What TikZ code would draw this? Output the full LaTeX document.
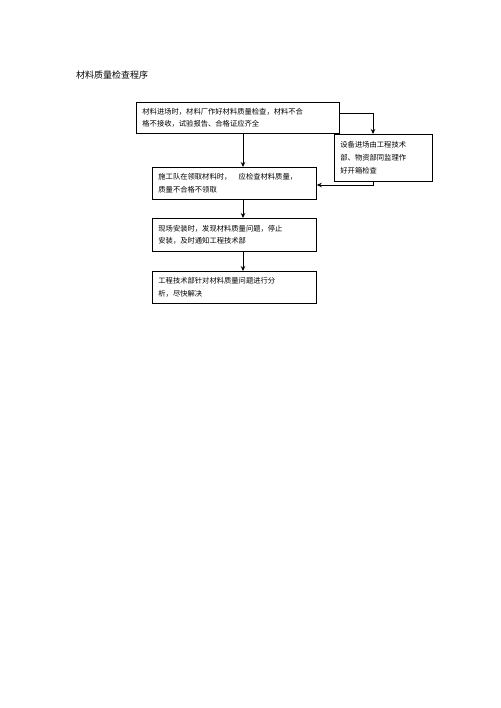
\documentclass[tikz,border=0pt]{standalone}
\usepackage{fontspec}
\newfontfamily\cjk{Noto Sans CJK SC}
\usetikzlibrary{arrows.meta}
\begin{document}
\begin{tikzpicture}[x=1pt,y=-1pt,
  box/.style={draw=black,line width=0.8pt,anchor=north west,inner xsep=6pt,inner ysep=0pt,
    align=left,font=\cjk\fontsize{7.3}{12.8}\selectfont},
  arr/.style={draw=black,line width=0.9pt,-{Stealth[length=5pt,width=4.5pt]}}]
\useasboundingbox[fill=white] (0,0) rectangle (500,708);
\node[anchor=west,font=\cjk\fontsize{9}{11}\selectfont,inner sep=0pt] (title) at (76,75) {材料质量检查程序};
\node[box,minimum width=203pt,minimum height=31pt,text width=191pt] (b1) at (136,102)
  {材料进场时，材料厂作好材料质量检查，材料不合\\格不接收，试验报告、合格证应齐全};
\node[box,minimum width=98pt,minimum height=47pt,text width=86pt] (b2) at (334,134)
  {设备进场由工程技术\\部、物资部同监理作\\好开箱检查};
\node[box,minimum width=164pt,minimum height=32pt,text width=152pt] (b3) at (152,167)
  {施工队在领取材料时，\hspace{1em}应检查材料质量，\\质量不合格不领取};
\node[box,minimum width=164pt,minimum height=33pt,text width=152pt] (b4) at (152,218)
  {现场安装时，发现材料质量问题，停止\\安装，及时通知工程技术部};
\node[box,minimum width=164pt,minimum height=32pt,text width=152pt] (b5) at (152,271)
  {工程技术部针对材料质量问题进行分\\析，尽快解决};
\coordinate (xa) at (243,0);
\coordinate (xb) at (373,0);
\coordinate (ya) at (0,113);
\coordinate (yb) at (0,185);
\draw[arr] (b1.south -| xa) -- (b3.north -| xa);
\draw[arr] (b1.east |- ya) -- (xb |- ya) -- (b2.north -| xb);
\draw[arr] (b2.south -| xb) -- (xb |- yb) -- (b3.east |- yb);
\draw[arr] (b3.south -| xa) -- (b4.north -| xa);
\draw[arr] (b4.south -| xa) -- (b5.north -| xa);
\end{tikzpicture}
\end{document}
